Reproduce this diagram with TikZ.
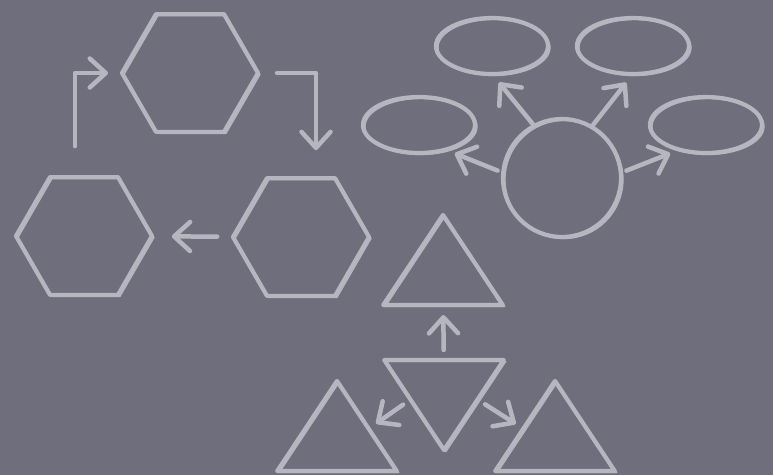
\documentclass[tikz,border=0pt]{standalone}
\usetikzlibrary{shapes.geometric,arrows.meta}
\definecolor{slate}{RGB}{111,110,124}
\definecolor{chalk}{RGB}{182,182,192}
\begin{document}
\begin{tikzpicture}[x=1pt, y=-1pt,
    every node/.style={draw=chalk, line width=4.2pt, inner sep=0pt, outer sep=0pt, line join=round,
      postaction={draw=chalk, line width=1.3pt, transform canvas={shift={(2pt,-1.5pt)}}}},
    hexa/.style={regular polygon, regular polygon sides=6, minimum size=136pt},
    tri/.style={regular polygon, regular polygon sides=3, minimum size=138pt, yscale=0.87},
    oval/.style={ellipse, minimum width=112pt, minimum height=56pt},
    link/.style={draw=chalk, line width=4.5pt, line cap=round, line join=round,
      -{Straight Barb[length=16pt,width=29pt,round]}}]
  \useasboundingbox (0,0) rectangle (773,475);
  \fill[slate] (0,0) rectangle (773,475);

  % cycle of hexagons
  \node[hexa] (hexT) at (190,73) {};
  \node[hexa] (hexBL) at (84,236) {};
  \node[hexa] (hexBR) at (301,237) {};

  \draw[link, shorten <=19pt, shorten >=28pt] (hexT.east) -| ([xshift=15pt]hexBR.north);
  \draw[link, shorten <=16pt, shorten >=20pt] (hexBR) -- (hexBL);
  \draw[link, shorten <=31pt, shorten >=14pt] ([xshift=-9pt]hexBL.north) |- (hexT.west);

  % hub and ovals
  \node[circle, minimum size=118pt] (hub) at (562,178) {};
  \node[oval] (ovNW) at (492,46) {};
  \node[oval] (ovNE) at (633,46) {};
  \node[oval] (ovW) at (419,125) {};
  \node[oval] (ovE) at (706,125) {};

  \draw[link, shorten <=1pt, shorten >=11pt] (hub.118) -- (ovNW.south);
  \draw[link, shorten <=1pt, shorten >=11pt] (hub.60) -- (ovNE.south);
  \draw[link, shorten <=6pt, shorten >=10pt] (hub.175) -- (ovW.-43);
  \draw[link, shorten <=6pt, shorten >=10pt] (hub.5) -- (ovE.-137);

  % triangles
  \node[tri] (triT) at (443,275) {};
  \node[tri, regular polygon rotate=180] (triM) at (444,390) {};
  \node[tri] (triL) at (337,441) {};
  \node[tri] (triR) at (555,441) {};

  \draw[link, shorten <=10pt, shorten >=10pt] (triM) -- (triT);
  \draw[link, shorten <=9pt, shorten >=9pt] (triM.198) -- (triL.24);
  \draw[link, shorten <=9pt, shorten >=9pt] (triM.-18) -- (triR.156);
\end{tikzpicture}
\end{document}
